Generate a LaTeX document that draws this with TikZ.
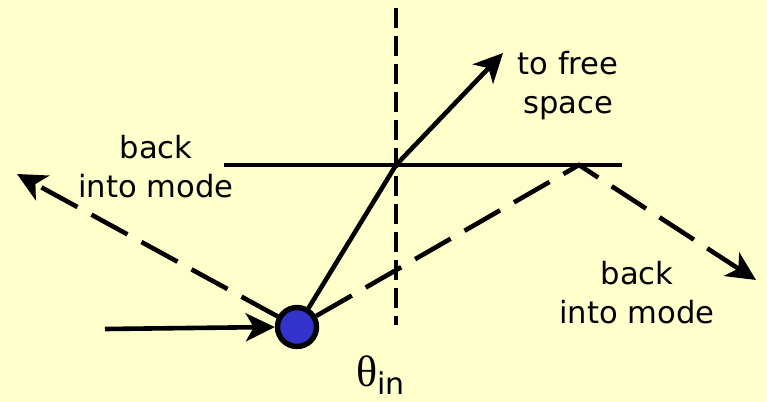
\documentclass[tikz,border=0pt]{standalone}
\usepackage{fontspec}
\setmainfont{DejaVu Sans}
\newfontfamily\thetafont{Liberation Serif}
\usepackage{tikz}
\usetikzlibrary{arrows.meta, positioning}
\definecolor{paper}{HTML}{FFFFCC}
\definecolor{atomblue}{HTML}{3333CC}

\begin{document}
\begin{tikzpicture}[
    x=0.5pt, y=-0.5pt,
    ray/.style={line width=2.3pt},
    dashray/.style={line width=2.3pt, dash pattern=on 20.5pt off 8pt},
    normal/.style={line width=2.3pt, dash pattern=on 10pt off 4pt},
    tip/.style={-{Stealth[length=14.5pt, width=14pt, inset=4pt]}},
    atom/.style={circle, draw=black, line width=2.7pt, fill=atomblue, minimum size=19.5pt, inner sep=0pt},
    lbl/.style={align=center, font=\fontsize{15.3}{19.5}\selectfont}
]
    \useasboundingbox (0,0) rectangle (767,402);
    \fill[paper] (0,0) rectangle (767,402);

    % surface and normal
    \coordinate (surfL) at (224,165);
    \coordinate (surfR) at (622,165);
    \coordinate (normtop) at (396,8);
    \coordinate (normbot) at (396,325);
    \draw[ray] (surfL) -- (surfR);
    \draw[normal] (normtop) -- (normbot);

    % emitter and rays
    \node[atom] (ball) at (297,327) {};
    \coordinate (src) at (105,329);
    \coordinate (cross) at (396,165);
    \coordinate (freetip) at (503,53);
    \coordinate (bounce) at (579,165);
    \coordinate (righttip) at (756,280);
    \coordinate (lefttip) at (17,174);

    \draw[ray, tip] (src) -- (ball.west);
    \draw[ray, tip] (ball) -- (cross) -- (freetip);
    \draw[dashray, tip] (ball) -- (bounce) -- (righttip);
    \draw[dashray, tip] (ball) -- (lefttip);

    % labels
    \node[lbl] (free) at (568,86) {to free\\space};
    \node[lbl] (backL) at (156,167) {back\\into mode};
    \node[lbl] (backR) at (637,293) {back\\into mode};
    \node[anchor=base west, inner sep=0pt] (theta) at (356,386)
        {{\thetafont\fontsize{22}{22}\selectfont θ}\raisebox{-4pt}{\fontsize{15}{15}\selectfont in}};
\end{tikzpicture}
\end{document}
